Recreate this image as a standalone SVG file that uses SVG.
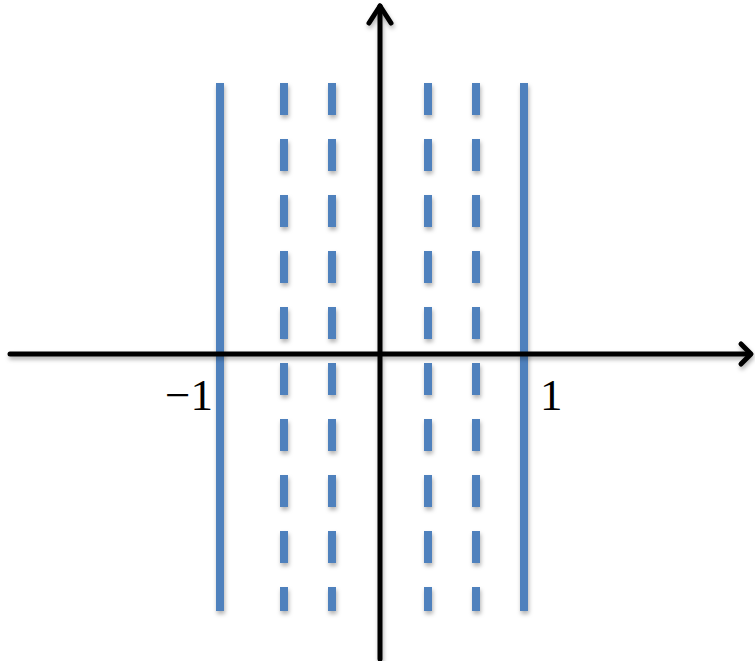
<svg xmlns="http://www.w3.org/2000/svg" width="755" height="661" viewBox="0 0 755 661">
<defs>
<filter id="sh" x="-50%" y="-10%" width="200%" height="120%">
<feDropShadow dx="1" dy="3" stdDeviation="2" flood-color="#000" flood-opacity="0.3"/>
</filter>
</defs>
<style>
.solid{stroke:#4f81bd;stroke-width:8;fill:none}
.dash{stroke:#4f81bd;stroke-width:8;fill:none;stroke-dasharray:32 24}
.axis{stroke:#000;stroke-width:5;fill:none;stroke-linecap:round;stroke-linejoin:round}
.lbl{font-family:"Liberation Serif","Times New Roman",serif;font-size:45px;fill:#000}
</style>
<g id="lines" filter="url(#sh)">
<line class="solid" x1="220" y1="83" x2="220" y2="611"/>
<line class="dash" x1="284" y1="83" x2="284" y2="611"/>
<line class="dash" x1="332" y1="83" x2="332" y2="611"/>
<line class="dash" x1="428" y1="83" x2="428" y2="611"/>
<line class="dash" x1="476" y1="83" x2="476" y2="611"/>
<line class="solid" x1="524" y1="83" x2="524" y2="611"/>
</g>
<g id="axes" filter="url(#sh)">
<line class="axis" x1="10" y1="354" x2="750" y2="354" stroke-linecap="butt"/>
<polyline class="axis" points="741,344 751,354 741,364"/>
<line class="axis" x1="380" y1="659" x2="380" y2="6" stroke-linecap="butt"/>
<polyline class="axis" points="369,23 380,6 391,23"/>
</g>
<g id="labels">
<text class="lbl" x="213" y="410" text-anchor="end">−1</text>
<text class="lbl" x="540" y="410">1</text>
</g>
</svg>
